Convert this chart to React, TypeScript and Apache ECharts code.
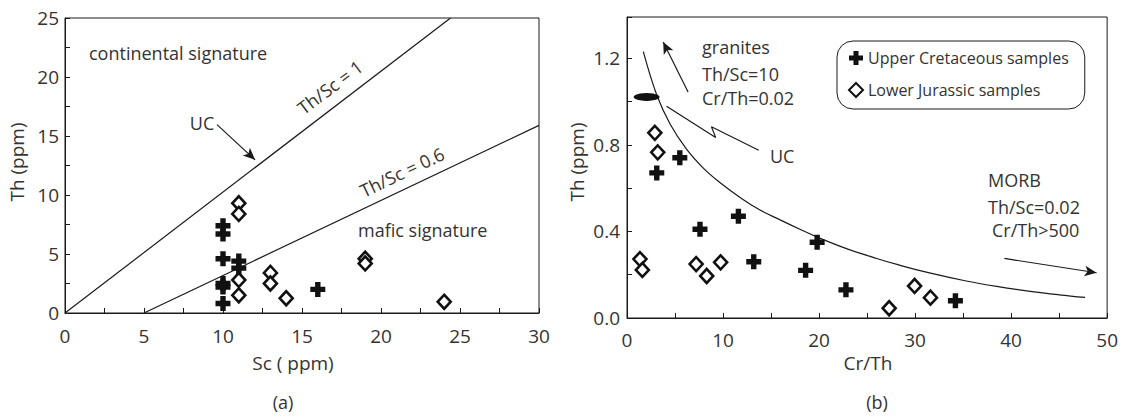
import React, { useEffect, useRef } from "react";
import * as echarts from "echarts";

// ---- data ----
const leftUpperCretaceous: number[][] = [
  [10, 7.4], [10, 6.7], [10, 4.6], [10, 2.5], [10, 2.2], [10, 0.8],
  [11, 4.4], [11, 3.8], [16, 2.0],
];
const leftLowerJurassic: number[][] = [
  [11, 9.3], [11, 8.4], [11, 2.8], [11, 1.5], [13, 3.4], [13, 2.5],
  [14, 1.25], [19, 4.6], [19, 4.2], [24, 0.95],
];
const lineThSc1: number[][] = [[0, 0], [24.4, 25]];
const lineThSc06: number[][] = [[5, 0], [30, 15.9]];

const rightUpperCretaceous: number[][] = [
  [3.1, 0.67], [5.5, 0.74], [7.6, 0.41], [11.6, 0.47], [13.2, 0.26],
  [18.6, 0.22], [19.8, 0.35], [22.8, 0.13], [34.2, 0.08],
];
const rightLowerJurassic: number[][] = [
  [2.9, 0.855], [3.2, 0.765], [1.35, 0.272], [1.6, 0.222], [7.2, 0.249],
  [8.3, 0.194], [9.75, 0.257], [27.3, 0.045], [29.95, 0.148], [31.6, 0.094],
];
const mixingCurve: number[][] = [
  [1.7, 1.23], [3.1, 1.03], [4.5, 0.895], [6.2, 0.78], [8.0, 0.69],
  [9.7, 0.625], [12.0, 0.55], [13.8, 0.5], [16.0, 0.452], [18.0, 0.41],
  [20.0, 0.37], [23.0, 0.318], [26.0, 0.275], [28.3, 0.245], [31.5, 0.208],
  [35.2, 0.172], [38.5, 0.146], [42.0, 0.123], [45.0, 0.107], [47.7, 0.095],
];
const ucPoint: number[][] = [[2.04, 1.021]];
const ucZigzag: number[][] = [[4.12, 0.978], [9.23, 0.834], [8.79, 0.883], [13.72, 0.775]];
const leftUcArrow: number[][] = [[9.62, 15.96], [12.03, 12.98]];
const granitesArrow: number[][] = [[6.36, 1.044], [3.77, 1.275]];
const morbArrow: number[][] = [[39.3, 0.275], [48.9, 0.209]];

const leftXTicks = { min: 0, max: 30, interval: 5 };
const leftYTicks = { min: 0, max: 25, interval: 5 };
const rightXTicks = { min: 0, max: 50, interval: 10 };
const rightYTicks = { min: 0, max: 1.39, interval: 0.4 };

const NAME_UC = "Upper Cretaceous samples";
const NAME_LJ = "Lower Jurassic samples";

const FONT = "'Open Sans', 'DejaVu Sans', sans-serif";
const TXT = "#333";
const LINE = "#1a1a1a";
const CROSS = "path://M3.2,0H6.8V3.2H10V6.8H6.8V10H3.2V6.8H0V3.2H3.2Z";

function axis(grid: number, t: { min: number; max: number; interval: number }, margin: number, fmt?: (v: number) => string, hideMax?: boolean) {
  return {
    gridIndex: grid,
    type: "value",
    min: t.min,
    max: t.max,
    interval: t.interval,
    axisLine: { show: true, onZero: false, lineStyle: { color: LINE, width: 1 } },
    axisTick: { show: true, inside: true, length: 5, lineStyle: { color: LINE, width: 1 } },
    minorTick: { show: true, splitNumber: 2, length: 5, lineStyle: { color: LINE, width: 1 } },
    splitLine: { show: false },
    axisLabel: {
      fontSize: 19,
      color: TXT,
      fontFamily: FONT,
      margin,
      showMaxLabel: hideMax ? false : true,
      formatter: fmt,
    },
  };
}

function arrow(grid: number, pts: number[][]) {
  return {
    type: "line",
    xAxisIndex: grid,
    yAxisIndex: grid,
    data: [],
    silent: true,
    markLine: {
      silent: true,
      symbol: ["none", "arrow"],
      symbolSize: [8, 12],
      label: { show: false },
      lineStyle: { color: LINE, width: 1.2, type: "solid" },
      data: [[{ coord: pts[0] }, { coord: pts[1] }]],
    },
  };
}

function text(x: number, y: number, s: string, opts: any = {}) {
  return {
    type: "text",
    x,
    y,
    rotation: opts.rotation || 0,
    style: {
      text: s,
      fontSize: opts.fontSize || 18,
      fontFamily: FONT,
      fill: TXT,
      align: opts.align || "left",
      verticalAlign: "middle",
    },
    silent: true,
  };
}

export default function App() {
  const ref = useRef<HTMLDivElement>(null);
  useEffect(() => {
    if (!ref.current) return;
    const chart = echarts.init(ref.current, null, { renderer: "svg" });
    const crossStyle = { color: "#111", opacity: 1 };
    const diamondStyle = { color: "#fff", borderColor: "#111", borderWidth: 2.6, opacity: 1 };
    chart.setOption({
      animation: false,
      backgroundColor: "#fff",
      textStyle: { fontFamily: FONT },
      grid: [
        { left: 65, top: 18, width: 474, height: 295, show: true, borderColor: LINE, borderWidth: 1, backgroundColor: "transparent" },
        { left: 627, top: 17, width: 482, height: 301, show: true, borderColor: LINE, borderWidth: 1, backgroundColor: "transparent" },
      ],
      xAxis: [
        axis(0, leftXTicks, 13),
        axis(1, rightXTicks, 12),
      ],
      yAxis: [
        axis(0, leftYTicks, 6),
        axis(1, rightYTicks, 7, (v: number) => v.toFixed(1), true),
      ],
      legend: {
        data: [NAME_UC, NAME_LJ],
        orient: "vertical",
        left: 837,
        top: 41,
        padding: [8, 16, 10, 11],
        itemGap: 14,
        itemWidth: 14,
        itemHeight: 14,
        backgroundColor: "#fff",
        borderColor: LINE,
        borderWidth: 1,
        borderRadius: 16,
        textStyle: { fontSize: 16, color: TXT, fontFamily: FONT, lineHeight: 18 },
      },
      series: [
        { type: "line", xAxisIndex: 0, yAxisIndex: 0, data: lineThSc1, showSymbol: false, silent: true, lineStyle: { color: LINE, width: 1.2 } },
        { type: "line", xAxisIndex: 0, yAxisIndex: 0, data: lineThSc06, showSymbol: false, silent: true, lineStyle: { color: LINE, width: 1.2 } },
        arrow(0, leftUcArrow),
        { name: NAME_UC, type: "scatter", xAxisIndex: 0, yAxisIndex: 0, data: leftUpperCretaceous, symbol: CROSS, symbolSize: 15, itemStyle: crossStyle, z: 5 },
        { name: NAME_LJ, type: "scatter", xAxisIndex: 0, yAxisIndex: 0, data: leftLowerJurassic, symbol: "diamond", symbolSize: [13, 14], itemStyle: diamondStyle, z: 5 },

        { type: "line", xAxisIndex: 1, yAxisIndex: 1, data: mixingCurve, smooth: 0.4, showSymbol: false, silent: true, lineStyle: { color: LINE, width: 1.2 } },
        { type: "line", xAxisIndex: 1, yAxisIndex: 1, data: ucZigzag, showSymbol: false, silent: true, lineStyle: { color: LINE, width: 1.2 } },
        arrow(1, granitesArrow),
        arrow(1, morbArrow),
        { type: "scatter", xAxisIndex: 1, yAxisIndex: 1, data: ucPoint, symbol: "circle", symbolSize: [26, 8], itemStyle: { color: "#111", opacity: 1 }, silent: true, z: 6 },
        { name: NAME_UC, type: "scatter", xAxisIndex: 1, yAxisIndex: 1, data: rightUpperCretaceous, symbol: CROSS, symbolSize: 15, itemStyle: crossStyle, z: 5 },
        { name: NAME_LJ, type: "scatter", xAxisIndex: 1, yAxisIndex: 1, data: rightLowerJurassic, symbol: "diamond", symbolSize: [13, 14], itemStyle: diamondStyle, z: 5 },
      ],
      graphic: [
        text(89, 53, "continental signature"),
        text(202, 123, "UC", { align: "center" }),
        text(330, 87, "Th/Sc = 1", { align: "center", rotation: (37 * Math.PI) / 180 }),
        text(402, 172, "Th/Sc = 0.6", { align: "center", rotation: (25.5 * Math.PI) / 180 }),
        text(358, 230, "mafic signature"),
        text(17, 162, "Th (ppm)", { align: "center", rotation: Math.PI / 2, fontSize: 19 }),
        text(293, 363, "Sc ( ppm)", { align: "center", fontSize: 19 }),
        text(283, 402, "(a)", { align: "center", fontSize: 18 }),

        text(702, 47, "granites"),
        text(702, 74, "Th/Sc=10"),
        text(702, 98, "Cr/Th=0.02"),
        text(770, 156, "UC"),
        text(988, 180, "MORB"),
        text(988, 207, "Th/Sc=0.02"),
        text(992, 230, "Cr/Th>500"),
        text(577, 162, "Th (ppm)", { align: "center", rotation: Math.PI / 2, fontSize: 19 }),
        text(868, 363, "Cr/Th", { align: "center", fontSize: 19 }),
        text(877, 402, "(b)", { align: "center", fontSize: 18 }),
      ],
    });
    return () => chart.dispose();
  }, []);
  return (
    <div
      ref={ref}
      style={{ position: "fixed", left: 0, top: 0, width: 1121, height: 417, background: "#fff" }}
    />
  );
}
